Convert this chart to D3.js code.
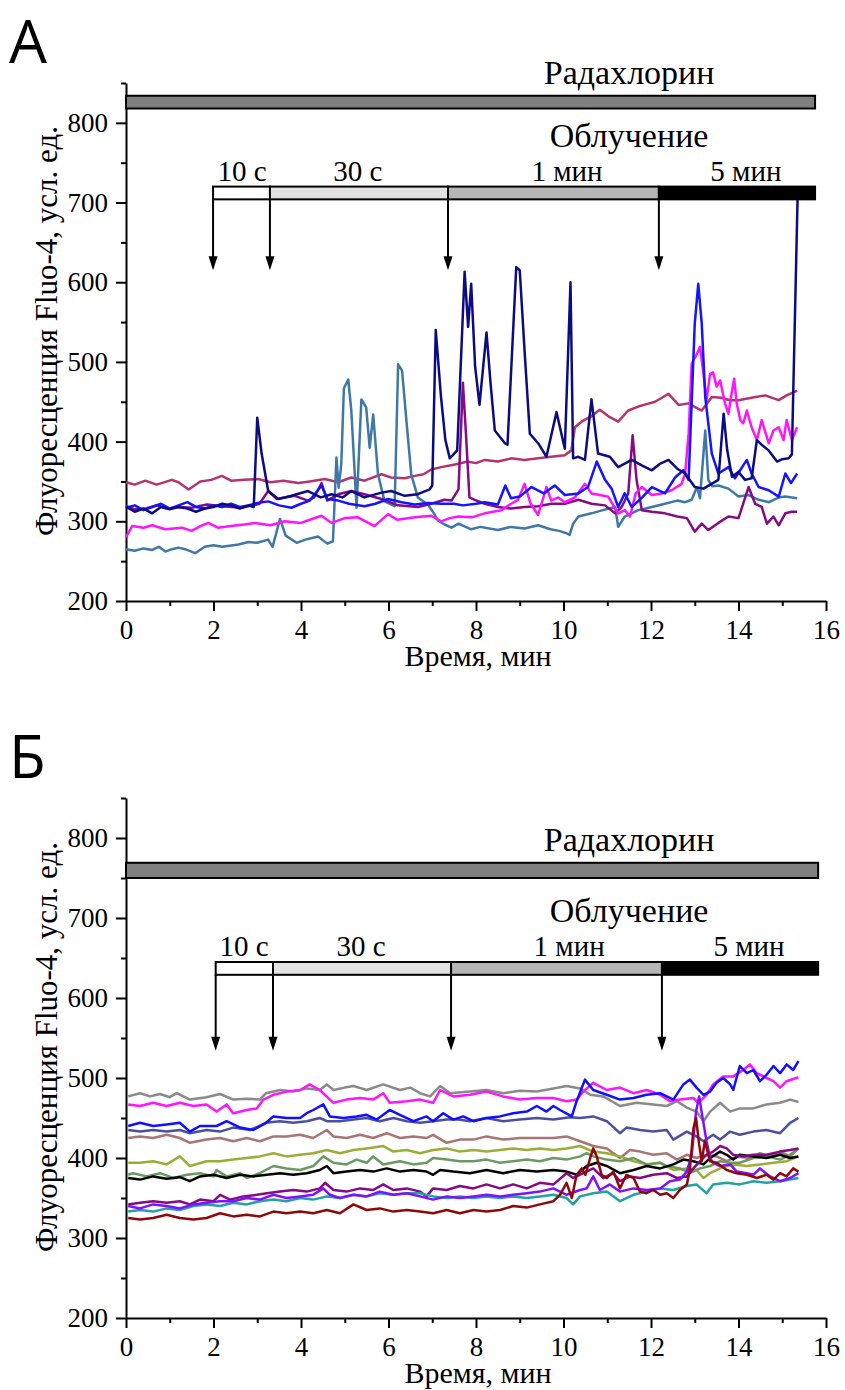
<!DOCTYPE html>
<html>
<head>
<meta charset="utf-8">
<script src="https://cdn.jsdelivr.net/npm/d3@7"></script>
<style>
  body { margin: 0; background: #fff; }
</style>
</head>
<body>
<svg id="fig" width="845" height="1390"></svg>
<script>
// ---------- axis ticks ----------
const timeMajor = [0, 2, 4, 6, 8, 10, 12, 14, 16];
const timeMinor = [1, 3, 5, 7, 9, 11, 13, 15];
const fluoMajor = [200, 300, 400, 500, 600, 700, 800];
const fluoMinor = [250, 350, 450, 550, 650, 750, 850];

// ---------- treatment schedule (min) ----------
const doseLabels = ["10 с", "30 с", "1 мин", "5 мин"];
const doseBoundsA = [1.99, 3.29, 7.36, 12.18, 15.75];
const doseBoundsB = [2.05, 3.36, 7.43, 12.25, 15.82];
const doseLabelTimeA = [2.65, 5.3, 10.08, 14.17];
const doseLabelTimeB = [2.7, 5.37, 10.13, 14.24];
const radachlorinA = [0, 15.75];
const radachlorinB = [0, 15.82];

// ---------- panel A: Fluo-4 traces [time, min ; fluorescence] ----------
const aNavy = [[0,318],[0.2,312],[0.4,316],[0.6,310],[0.8,318],[1.0,315],[1.2,318],[1.4,316],[1.6,312],[1.8,316],[2.0,318],[2.2,322],[2.4,320],[2.6,316],[2.8,320],[2.92,318],[3.0,430],[3.1,385],[3.25,338],[3.48,328],[3.78,332],[4.16,338],[4.45,330],[4.7,334],[4.95,330],[5.15,338],[5.45,330],[5.84,336],[6.06,338],[6.37,332],[6.67,334],[6.94,340],[7.0,345],[7.08,540],[7.2,456],[7.3,402],[7.4,379],[7.57,389],[7.74,613],[7.82,544],[7.89,598],[7.98,494],[8.08,446],[8.24,537],[8.33,475],[8.43,414],[8.66,398],[8.72,396],[8.92,619],[9.0,615],[9.11,514],[9.23,410],[9.42,398],[9.61,381],[9.84,437],[10.03,391],[10.16,600],[10.22,379],[10.34,381],[10.49,377],[10.64,453],[10.79,385],[11.06,381],[11.25,368],[11.56,377],[11.8,370],[12.02,364],[12.2,372],[12.4,377],[12.6,366],[12.78,360],[13.0,343],[13.2,341],[13.54,352],[13.66,435],[13.74,390],[13.85,356],[14.0,362],[14.15,352],[14.3,354],[14.42,402],[14.55,395],[14.69,389],[14.88,375],[15.0,378],[15.15,379],[15.22,384],[15.35,705]];
const aBlue = [[0,317],[0.2,320],[0.4,314],[0.6,318],[0.8,322],[1.0,316],[1.2,320],[1.4,324],[1.6,318],[1.8,316],[2.0,320],[2.2,318],[2.4,322],[2.6,318],[2.8,320],[3.0,323],[3.25,325],[3.5,320],[3.78,317],[4.0,322],[4.2,326],[4.47,345],[4.6,328],[4.85,326],[5.1,322],[5.45,319],[5.7,322],[5.99,328],[6.3,324],[6.6,321],[6.9,323],[7.2,322],[7.5,322],[7.7,320],[8.0,322],[8.2,324],[8.5,321],[8.67,345],[8.8,329],[9.0,331],[9.27,343],[9.55,335],[9.8,345],[10.03,333],[10.34,335],[10.56,343],[10.76,375],[10.95,352],[11.1,341],[11.25,318],[11.4,335],[11.56,318],[11.8,330],[12.02,343],[12.32,335],[12.55,355],[12.74,364],[12.86,352],[13.0,548],[13.08,598],[13.16,548],[13.24,456],[13.39,385],[13.54,360],[13.77,368],[13.92,354],[14.19,377],[14.3,360],[14.46,343],[14.69,339],[14.92,331],[15.07,360],[15.2,348],[15.34,360]];
const aMagenta = [[0,280],[0.14,294],[0.4,292],[0.6,295],[0.9,290],[1.28,292],[1.5,288],[1.7,294],[1.88,298],[2.1,292],[2.4,294],[2.7,296],[2.95,298],[3.3,295],[3.63,300],[4.0,298],[4.2,302],[4.47,307],[4.7,298],[5.0,304],[5.3,305],[5.68,294],[5.99,309],[6.2,302],[6.6,305],[6.98,307],[7.2,300],[7.4,304],[7.6,306],[7.9,305],[8.2,310],[8.58,314],[8.8,322],[8.96,327],[9.11,347],[9.25,322],[9.42,308],[9.61,343],[9.72,326],[9.88,330],[10.03,324],[10.26,330],[10.49,347],[10.64,335],[10.83,333],[11.02,331],[11.25,310],[11.4,314],[11.52,306],[11.65,335],[11.79,343],[12.02,333],[12.25,335],[12.47,339],[12.7,347],[12.78,360],[12.86,410],[12.93,498],[13.05,510],[13.12,519],[13.2,485],[13.27,452],[13.35,485],[13.42,487],[13.5,469],[13.58,477],[13.69,448],[13.77,435],[13.83,456],[13.9,479],[13.96,448],[14.04,427],[14.11,423],[14.19,439],[14.3,418],[14.42,402],[14.53,427],[14.69,398],[14.8,414],[14.92,418],[15.03,402],[15.1,427],[15.22,402],[15.34,418]];
const aSteel = [[0,265],[0.2,263],[0.4,266],[0.6,264],[0.75,268],[0.9,262],[1.05,265],[1.2,267],[1.35,265],[1.58,260],[1.8,268],[2.0,270],[2.2,268],[2.57,271],[2.8,274],[3.0,273],[3.25,277],[3.35,268],[3.52,303],[3.65,282],[3.9,273],[4.1,277],[4.39,281],[4.6,272],[4.73,275],[4.81,380],[4.86,342],[4.92,371],[4.98,467],[5.08,478],[5.15,439],[5.27,317],[5.38,453],[5.49,443],[5.57,392],[5.65,434],[5.76,359],[5.91,325],[6.14,319],[6.22,497],[6.31,489],[6.41,426],[6.52,359],[6.67,330],[6.9,321],[7.05,309],[7.13,301],[7.28,296],[7.44,292],[7.6,297],[7.89,290],[8.1,293],[8.5,289],[8.8,293],[9.11,291],[9.42,295],[9.7,290],[9.9,288],[10.07,285],[10.14,283],[10.22,297],[10.34,306],[10.64,310],[10.9,314],[11.18,318],[11.25,293],[11.4,306],[11.71,314],[12.02,318],[12.32,322],[12.6,326],[12.78,324],[12.93,327],[13.05,343],[13.12,329],[13.24,414],[13.31,352],[13.4,344],[13.54,345],[13.77,341],[14.0,331],[14.23,333],[14.46,327],[14.7,324],[14.92,330],[15.07,331],[15.34,329]];
const aVioletRed = [[0,349],[0.2,346],[0.44,351],[0.7,346],[1.05,352],[1.2,349],[1.43,340],[1.7,350],[1.95,352],[2.19,357],[2.4,351],[2.7,352],[3.02,353],[3.3,349],[3.6,351],[3.94,348],[4.2,350],[4.54,353],[4.85,349],[5.15,355],[5.45,351],[5.84,359],[6.06,355],[6.37,354],[6.6,357],[6.8,359],[6.98,365],[7.2,368],[7.4,370],[7.58,372],[7.8,375],[8.0,373],[8.2,377],[8.5,375],[8.81,379],[9.1,377],[9.42,379],[9.72,381],[10.03,383],[10.18,389],[10.26,418],[10.41,425],[10.64,432],[10.83,440],[11.02,432],[11.25,425],[11.48,439],[11.71,444],[11.9,447],[12.09,450],[12.25,455],[12.4,460],[12.63,446],[12.85,448],[13.16,439],[13.39,456],[13.6,455],[13.8,452],[14.0,452],[14.3,455],[14.61,458],[14.92,452],[15.1,458],[15.34,464]];
const aPurple = [[0,319],[0.2,315],[0.45,316],[0.7,320],[0.95,316],[1.2,318],[1.5,317],[1.85,321],[2.2,319],[2.64,317],[2.9,320],[3.05,322],[3.25,338],[3.45,328],[3.86,332],[4.16,326],[4.3,330],[4.47,348],[4.6,326],[4.85,334],[5.15,338],[5.45,334],[5.84,328],[6.22,320],[6.67,318],[6.98,322],[7.28,327],[7.44,326],[7.6,340],[7.7,474],[7.77,410],[7.85,330],[7.97,327],[8.2,322],[8.5,318],[8.8,316],[9.11,318],[9.42,319],[9.72,322],[10.03,322],[10.34,327],[10.64,322],[10.95,320],[11.18,310],[11.33,318],[11.48,335],[11.58,408],[11.67,352],[11.79,314],[12.02,312],[12.32,310],[12.6,306],[12.82,304],[13.0,287],[13.16,297],[13.31,289],[13.54,298],[13.77,306],[14.0,304],[14.23,343],[14.38,322],[14.53,318],[14.65,297],[14.8,306],[14.92,295],[15.07,310],[15.22,312],[15.34,312]];

// ---------- panel Б: Fluo-4 traces ----------
const bGray = [[0.05,477],[0.32,481],[0.55,477],[0.78,480],[1.0,476],[1.16,481],[1.46,473],[1.84,476],[2.15,480],[2.45,473],[2.76,474],[3.06,473],[3.2,481],[3.52,485],[3.82,483],[4.13,487],[4.43,485],[4.59,492],[4.74,485],[5.0,488],[5.2,490],[5.5,485],[5.88,492],[6.26,485],[6.5,488],[6.72,481],[6.95,477],[7.18,490],[7.41,481],[7.86,483],[8.24,485],[8.62,481],[9.0,484],[9.39,483],[9.77,487],[10.07,490],[10.38,487],[10.61,479],[10.91,477],[11.29,465],[11.67,469],[12.05,467],[12.36,465],[12.59,471],[12.82,463],[13.04,458],[13.2,446],[13.35,458],[13.58,469],[13.81,458],[14.03,462],[14.34,462],[14.64,467],[14.95,469],[15.18,473],[15.37,470]];
const bMagenta = [[0.05,467],[0.32,465],[0.62,469],[0.93,465],[1.23,469],[1.54,465],[1.84,467],[2.07,458],[2.3,467],[2.45,456],[2.76,460],[2.99,462],[3.14,473],[3.37,479],[3.67,483],[3.98,485],[4.2,492],[4.43,485],[4.74,469],[5.04,473],[5.35,475],[5.65,473],[5.88,481],[6.03,469],[6.42,471],[6.72,473],[7.02,469],[7.18,485],[7.48,477],[7.86,479],[8.24,483],[8.62,477],[9.0,473],[9.39,475],[9.77,475],[10.07,471],[10.3,473],[10.45,483],[10.68,494],[10.99,485],[11.29,488],[11.6,481],[11.9,485],[12.21,479],[12.43,471],[12.66,473],[12.97,475],[13.08,469],[13.27,479],[13.42,492],[13.65,502],[13.88,502],[14.11,510],[14.26,517],[14.42,506],[14.64,500],[14.8,496],[14.95,488],[15.1,496],[15.37,501]];
const bBlue = [[0.05,440],[0.32,444],[0.62,440],[0.93,442],[1.23,444],[1.46,433],[1.69,440],[2.07,440],[2.3,446],[2.61,438],[2.91,435],[3.2,444],[3.37,452],[3.67,450],[3.98,450],[4.13,456],[4.28,460],[4.51,467],[4.66,452],[4.97,450],[5.27,452],[5.5,454],[5.73,448],[6.03,460],[6.26,454],[6.57,446],[6.87,452],[7.02,446],[7.25,456],[7.48,448],[7.71,452],[7.94,446],[8.24,450],[8.55,452],[8.85,456],[9.16,458],[9.39,465],[9.61,458],[9.77,465],[9.92,460],[10.19,452],[10.3,471],[10.49,498],[10.68,485],[10.99,479],[11.29,473],[11.6,475],[11.9,479],[12.21,481],[12.51,473],[12.74,492],[12.89,498],[13.04,488],[13.2,479],[13.35,483],[13.5,494],[13.65,500],[13.81,492],[13.88,485],[14.03,515],[14.19,506],[14.34,510],[14.49,496],[14.64,504],[14.8,515],[14.95,506],[15.1,517],[15.25,510],[15.37,521]];
const bSlate = [[0.05,435],[0.32,433],[0.62,435],[0.93,433],[1.23,435],[1.46,431],[1.84,435],[2.15,433],[2.45,438],[2.84,435],[3.2,444],[3.52,446],[3.82,444],[4.13,446],[4.43,450],[4.59,446],[4.89,446],[5.2,448],[5.5,450],[5.8,446],[6.11,450],[6.42,446],[6.72,444],[7.02,446],[7.33,448],[7.6,448],[7.86,446],[8.24,450],[8.62,446],[9.0,448],[9.39,450],[9.77,448],[10.15,451],[10.38,450],[10.68,452],[10.99,446],[11.29,431],[11.44,438],[11.75,435],[12.05,433],[12.36,435],[12.51,423],[12.82,433],[13.04,427],[13.2,421],[13.42,429],[13.58,423],[13.81,433],[14.03,429],[14.34,433],[14.64,435],[14.95,431],[15.18,444],[15.37,450]];
const bRosy = [[0.05,425],[0.32,427],[0.62,425],[0.93,429],[1.23,425],[1.46,419],[1.84,423],[2.15,425],[2.45,421],[2.76,425],[3.06,421],[3.37,427],[3.67,427],[3.98,429],[4.28,425],[4.59,435],[4.74,427],[5.04,425],[5.35,429],[5.65,425],[5.96,431],[6.26,425],[6.57,427],[6.87,425],[7.02,429],[7.33,419],[7.63,423],[7.94,423],[8.24,427],[8.62,423],[9.0,425],[9.39,425],[9.77,425],[10.07,427],[10.38,421],[10.68,415],[10.99,412],[11.29,400],[11.52,410],[11.75,408],[12.05,404],[12.36,406],[12.59,398],[12.82,404],[13.04,400],[13.27,404],[13.5,402],[13.73,396],[13.96,402],[14.26,400],[14.49,406],[14.72,402],[14.95,408],[15.18,402],[15.37,412]];
const bYellowGreen = [[0.05,394],[0.32,394],[0.62,396],[0.93,392],[1.23,402],[1.46,390],[1.84,396],[2.15,396],[2.45,398],[2.76,400],[3.06,402],[3.37,406],[3.67,402],[3.98,404],[4.28,406],[4.59,410],[4.89,406],[5.2,410],[5.5,412],[5.88,415],[6.11,408],[6.42,410],[6.72,406],[7.02,410],[7.33,412],[7.63,408],[7.94,410],[8.24,408],[8.55,410],[8.85,412],[9.16,410],[9.46,412],[9.77,410],[10.07,412],[10.38,415],[10.68,408],[10.99,406],[11.29,402],[11.6,396],[11.9,392],[12.21,394],[12.51,385],[12.82,387],[13.04,385],[13.2,375],[13.35,381],[13.58,387],[13.88,392],[14.19,390],[14.49,392],[14.8,394],[15.1,396],[15.37,402]];
const bSage = [[0.05,379],[0.16,381],[0.47,377],[0.78,381],[1.08,375],[1.39,379],[1.69,381],[2.0,377],[2.07,385],[2.3,377],[2.61,381],[2.76,375],[3.06,381],[3.37,390],[3.67,387],[3.98,385],[4.28,390],[4.51,402],[4.74,394],[5.04,392],[5.27,398],[5.5,394],[5.65,402],[5.88,392],[6.26,396],[6.57,392],[6.87,394],[7.02,400],[7.33,398],[7.63,396],[7.94,396],[8.24,398],[8.55,394],[8.85,396],[9.16,398],[9.46,396],[9.77,400],[10.07,398],[10.38,402],[10.53,406],[10.68,402],[10.99,398],[11.29,396],[11.6,400],[11.9,392],[12.21,394],[12.36,390],[12.66,387],[12.89,381],[13.12,387],[13.35,390],[13.58,396],[13.81,394],[14.03,394],[14.34,400],[14.64,402],[14.95,398],[15.18,404],[15.37,412]];
const bBlack = [[0.05,375],[0.32,373],[0.62,377],[0.93,374],[1.23,376],[1.46,371],[1.69,377],[2.0,379],[2.3,375],[2.61,379],[2.91,377],[3.22,379],[3.52,381],[3.82,379],[4.13,381],[4.43,385],[4.59,390],[4.74,381],[5.04,383],[5.35,385],[5.65,383],[5.96,387],[6.26,383],[6.57,385],[6.87,383],[7.02,379],[7.18,385],[7.48,383],[7.86,381],[8.24,385],[8.62,381],[9.0,385],[9.39,383],[9.77,385],[10.07,383],[10.3,379],[10.53,390],[10.76,394],[10.99,390],[11.29,381],[11.6,385],[11.9,390],[12.21,387],[12.51,392],[12.74,398],[12.97,396],[13.2,392],[13.35,400],[13.58,408],[13.73,404],[13.88,398],[14.03,404],[14.34,402],[14.64,400],[14.95,404],[15.18,400],[15.37,402]];
const bPurple = [[0.05,342],[0.32,344],[0.62,346],[0.93,344],[1.23,346],[1.46,342],[1.69,348],[2.0,346],[2.15,354],[2.38,348],[2.68,352],[2.99,354],[3.22,356],[3.52,358],[3.82,360],[4.13,358],[4.43,362],[4.55,369],[4.74,360],[5.04,358],[5.35,362],[5.65,360],[5.88,367],[6.11,360],[6.42,362],[6.72,358],[6.87,352],[7.02,362],[7.33,360],[7.63,365],[7.94,362],[8.24,367],[8.55,362],[8.85,367],[9.16,362],[9.46,369],[9.77,367],[10.07,381],[10.22,375],[10.45,381],[10.68,387],[10.91,375],[11.14,381],[11.29,371],[11.52,377],[11.75,375],[12.05,379],[12.36,381],[12.59,375],[12.82,377],[12.97,387],[13.12,396],[13.27,404],[13.42,408],[13.58,415],[13.73,412],[13.88,404],[14.11,402],[14.34,404],[14.64,404],[14.95,408],[15.18,410],[15.37,412]];
const bViolet = [[0.05,340],[0.32,337],[0.62,342],[0.93,340],[1.23,337],[1.54,342],[1.84,344],[2.15,346],[2.45,346],[2.76,350],[3.06,348],[3.37,354],[3.67,350],[3.98,352],[4.28,354],[4.51,362],[4.66,354],[4.89,350],[5.2,354],[5.5,352],[5.8,358],[6.11,354],[6.42,356],[6.72,352],[7.02,348],[7.33,352],[7.63,350],[7.94,352],[8.24,354],[8.55,352],[8.85,354],[9.16,356],[9.46,358],[9.77,362],[10.07,354],[10.38,360],[10.53,362],[10.68,377],[10.83,360],[11.06,367],[11.29,358],[11.6,362],[11.9,360],[12.21,362],[12.43,371],[12.66,373],[12.82,383],[12.93,404],[13.03,458],[13.1,477],[13.18,450],[13.27,421],[13.35,400],[13.42,394],[13.58,390],[13.81,392],[13.96,383],[14.19,381],[14.34,379],[14.49,387],[14.72,377],[14.95,371],[15.18,375],[15.37,381]];
const bTeal = [[0.05,333],[0.32,335],[0.62,333],[0.93,337],[1.23,335],[1.54,340],[1.84,342],[2.15,340],[2.45,344],[2.76,342],[3.06,346],[3.37,348],[3.67,346],[3.98,350],[4.28,348],[4.59,352],[4.89,350],[5.2,354],[5.5,352],[5.8,356],[6.11,354],[6.42,356],[6.72,356],[7.02,352],[7.33,350],[7.63,352],[7.94,350],[8.24,352],[8.55,350],[8.85,352],[9.16,350],[9.46,352],[9.77,354],[10.07,350],[10.22,342],[10.38,352],[10.68,356],[10.99,358],[11.29,346],[11.6,354],[11.9,358],[12.21,362],[12.51,360],[12.82,365],[13.04,367],[13.27,356],[13.42,367],[13.73,369],[14.03,367],[14.34,371],[14.64,369],[14.95,371],[15.18,373],[15.37,375]];
const bDarkRed = [[0.05,325],[0.32,323],[0.62,325],[0.93,329],[1.23,325],[1.54,323],[1.84,325],[2.15,331],[2.45,327],[2.76,329],[3.06,327],[3.37,333],[3.67,331],[3.98,333],[4.28,331],[4.59,335],[4.89,331],[5.2,342],[5.5,335],[5.8,337],[6.11,333],[6.42,335],[6.72,333],[7.02,331],[7.33,335],[7.63,331],[7.94,335],[8.24,333],[8.55,335],[8.85,340],[9.16,338],[9.46,342],[9.77,346],[9.92,354],[10.07,369],[10.19,350],[10.3,379],[10.42,387],[10.5,379],[10.61,400],[10.68,412],[10.76,402],[10.87,379],[10.99,375],[11.14,383],[11.29,362],[11.44,379],[11.6,375],[11.75,358],[11.9,356],[12.05,360],[12.21,354],[12.36,356],[12.51,350],[12.66,360],[12.82,367],[12.89,387],[12.97,437],[13.03,450],[13.1,417],[13.16,396],[13.23,421],[13.35,396],[13.5,394],[13.73,385],[13.96,381],[14.19,379],[14.42,375],[14.64,379],[14.8,373],[14.95,381],[15.1,377],[15.25,387],[15.37,383]];

// ---------- styling ----------
const seriesA = [
  { data: aVioletRed, color: "#b5336f" },
  { data: aSteel,     color: "#3f78a8" },
  { data: aPurple,    color: "#860a86" },
  { data: aMagenta,   color: "#ff14ff" },
  { data: aBlue,      color: "#1414ff" },
  { data: aNavy,      color: "#0c0c82" }
];
const seriesB = [
  { data: bGray,        color: "#8a8a8a" },
  { data: bMagenta,     color: "#ff14ff" },
  { data: bSlate,       color: "#4b4f9e" },
  { data: bBlue,        color: "#1010ff" },
  { data: bRosy,        color: "#a87474" },
  { data: bYellowGreen, color: "#9aae36" },
  { data: bSage,        color: "#6a9a62" },
  { data: bBlack,       color: "#000000" },
  { data: bPurple,      color: "#860a86" },
  { data: bTeal,        color: "#22a2a2" },
  { data: bViolet,      color: "#8010ff" },
  { data: bDarkRed,     color: "#8e0a0a" }
];
const doseFills = ["#ffffff", "#e2e2e2", "#b6b6b6", "#000000"];

const textFont = `"Liberation Serif", "Times New Roman", serif`;
const letterFont = `"Open Sans", "DejaVu Sans", sans-serif`;

const panels = [
  { letter: "А", letterY: 63, top: 83, bottom: 601, series: seriesA,
    bounds: doseBoundsA, labelT: doseLabelTimeA, radach: radachlorinA,
    radachV: [818, 834], doseV: [704, 720], arrowTipV: 615 },
  { letter: "Б", letterY: 778, top: 798, bottom: 1318, series: seriesB,
    bounds: doseBoundsB, labelT: doseLabelTimeB, radach: radachlorinB,
    radachV: [750, 769], doseV: [629, 645], arrowTipV: 534 }
];

const svg = d3.select("#fig");
const x = d3.scaleLinear().domain([0, 16]).range([126, 826]);

panels.forEach(p => {
  const y = d3.scaleLinear().domain([200, 850]).range([p.bottom, p.top]);
  const g = svg.append("g");

  // panel letter
  g.append("text").attr("x", 9).attr("y", p.letterY)
    .attr("font-family", letterFont).attr("font-size", 60).text(p.letter);

  // axes
  g.append("g").attr("transform", `translate(0,${p.bottom})`)
    .call(d3.axisBottom(x).tickValues(timeMajor).tickSize(10).tickSizeOuter(0).tickPadding(9).tickFormat(d3.format("d")));
  g.append("g").attr("transform", `translate(0,${p.bottom})`)
    .call(d3.axisBottom(x).tickValues(timeMinor).tickSize(5).tickFormat(() => ""))
    .select(".domain").remove();
  g.append("g").attr("transform", `translate(${x(0)},0)`)
    .call(d3.axisLeft(y).tickValues(fluoMajor).tickSize(10).tickSizeOuter(0).tickPadding(8).tickFormat(d3.format("d")));
  g.append("g").attr("transform", `translate(${x(0)},0)`)
    .call(d3.axisLeft(y).tickValues(fluoMinor).tickSize(5).tickFormat(() => ""))
    .select(".domain").remove();
  g.selectAll(".domain, .tick line").attr("stroke", "#000").attr("stroke-width", 2);
  g.selectAll(".tick text").attr("font-family", textFont).attr("font-size", 27).attr("fill", "#000");

  const txt = (sel) => sel.attr("font-family", textFont).attr("fill", "#000");

  // axis titles
  g.append("text").call(txt).attr("x", 478).attr("y", p.bottom + 65)
    .attr("text-anchor", "middle").attr("font-size", 30).text("Время, мин");
  g.append("text").call(txt)
    .attr("transform", `translate(57,${(p.top + p.bottom) / 2 - 11}) rotate(-90)`)
    .attr("text-anchor", "middle").attr("font-size", 31)
    .text("Флуоресценция Fluo-4, усл. ед.");

  // traces
  const line = d3.line().x(d => x(d[0])).y(d => y(d[1]));
  g.append("g").selectAll("path").data(p.series).join("path")
    .attr("d", s => line(s.data))
    .attr("fill", "none").attr("stroke", s => s.color)
    .attr("stroke-width", 2.5).attr("stroke-linejoin", "round");

  // radachlorin bar
  g.append("rect")
    .attr("x", x(p.radach[0])).attr("width", x(p.radach[1]) - x(p.radach[0]))
    .attr("y", y(p.radachV[1])).attr("height", y(p.radachV[0]) - y(p.radachV[1]))
    .attr("fill", "#808080").attr("stroke", "#000").attr("stroke-width", 2);
  g.append("text").call(txt).attr("x", x(11.5)).attr("y", y(p.radachV[1]) - 12)
    .attr("text-anchor", "middle").attr("font-size", 34).text("Радахлорин");

  // irradiation schedule
  const segs = d3.range(4).map(i => ({ a: p.bounds[i], b: p.bounds[i + 1], fill: doseFills[i], label: doseLabels[i], lt: p.labelT[i] }));
  const barTop = y(p.doseV[1]), barBot = y(p.doseV[0]);
  g.append("g").selectAll("rect").data(segs).join("rect")
    .attr("x", d => x(d.a)).attr("width", d => x(d.b) - x(d.a))
    .attr("y", barTop).attr("height", barBot - barTop)
    .attr("fill", d => d.fill).attr("stroke", "#000").attr("stroke-width", 2);
  g.append("g").selectAll("text").data(segs).join("text").call(txt)
    .attr("x", d => x(d.lt)).attr("y", barTop - 6)
    .attr("text-anchor", "middle").attr("font-size", 29).text(d => d.label);
  g.append("text").call(txt).attr("x", x(11.5)).attr("y", barTop - 40)
    .attr("text-anchor", "middle").attr("font-size", 34).text("Облучение");

  // arrows marking each irradiation start
  const tipY = y(p.arrowTipV);
  const arrows = g.append("g").selectAll("g").data(p.bounds.slice(0, 4)).join("g");
  arrows.append("line")
    .attr("x1", d => x(d)).attr("x2", d => x(d))
    .attr("y1", barBot).attr("y2", tipY - 10)
    .attr("stroke", "#000").attr("stroke-width", 2);
  arrows.append("path")
    .attr("d", d => `M${x(d) - 4.5},${tipY - 14}L${x(d) + 4.5},${tipY - 14}L${x(d)},${tipY}Z`)
    .attr("fill", "#000");
});
</script>
</body>
</html>
